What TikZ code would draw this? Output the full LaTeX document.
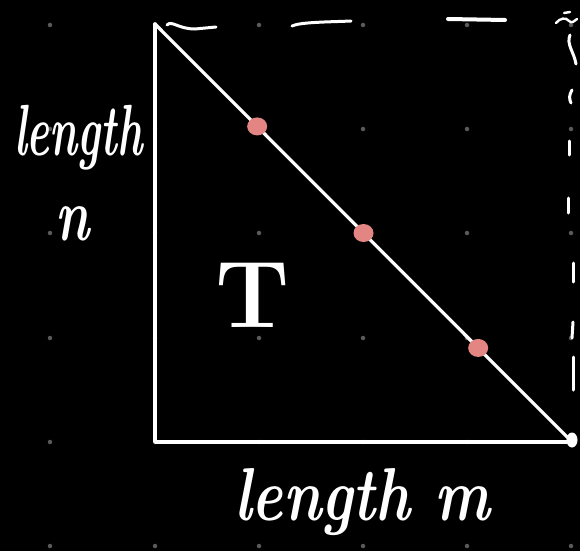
\documentclass[tikz,border=0pt]{standalone}
\usepackage{graphicx}
\definecolor{pinkdot}{HTML}{E38683}
\definecolor{griddot}{HTML}{5A5A5A}
\tikzset{
  wline/.style={draw=white, line width=3.6pt, line cap=round, line join=round},
  stroke/.style={draw=white, line width=3pt, line cap=round},
  blob/.style={ellipse, fill=pinkdot, minimum width=20pt, minimum height=18pt, inner sep=0pt},
  hand/.style={text=white, inner sep=0pt, font=\fontsize{50}{50}\selectfont\bfseries\itshape},
  gdot/.style={circle, fill=griddot, minimum size=4.5pt, inner sep=0pt},
}
\usetikzlibrary{shapes.geometric}
\begin{document}
\begin{tikzpicture}[x=1pt,y=-1pt]
\fill[black] (0,0) rectangle (580,551);
\useasboundingbox (0,0) rectangle (580,551);
% grid dots
\foreach \i/\x in {0/50,1/155,2/259,3/363,4/467,5/571}
  \foreach \j/\y in {0/25,1/129,2/233,3/338,4/442,5/546}
    \node[gdot] (g\i\j) at (\x,\y) {};
% triangle
\coordinate (A) at (155,24);
\coordinate (B) at (155,442);
\coordinate (C) at (572,442);
\draw[wline] (A) -- (B) -- (C);
\draw[draw=white, line width=3.2pt, line cap=round] (A) -- (C)
  node[blob, pos=0.245] (p1) {}
  node[blob, pos=0.50] (p2) {}
  node[blob, pos=0.775] (p3) {};
\node[ellipse, fill=white, minimum width=11pt, minimum height=15pt, inner sep=0pt] (cdot) at (572,440) {};
% top dashed strokes
\draw[stroke] (167,25) .. controls (172,20) and (178,29) .. (195,29) -- (216,27);
\draw[stroke] (292,26) .. controls (300,22) and (330,22) .. (351,21);
\draw[draw=white, line width=4pt, line cap=round] (448,19) -- (505,20);
\draw[draw=white, line width=2.4pt, line cap=round] (556,23) .. controls (560,18) and (566,17) .. (569,21) .. controls (572,24) and (574,21) .. (577,19);
\draw[draw=white, line width=2.4pt, line cap=round] (564,13) -- (570,12);
% right dashed strokes
\draw[stroke] (570,35) .. controls (566,44) and (574,52) .. (576,64);
\draw[stroke] (572,90) .. controls (569,95) and (569,99) .. (571,103);
\draw[stroke] (569,141) -- (569,155);
\draw[stroke] (568,198) -- (568,213);
\draw[stroke] (573,263) -- (573,282);
\draw[stroke] (573,322) -- (572,338);
\draw[stroke] (573,357) -- (573,390);
% labels
\node[hand, anchor=base west] (ln) at (14,155) {\scalebox{0.86}[1.45]{length}};
\node[hand, anchor=base west] (n) at (55,240) {\scalebox{1.05}[1.5]{n}};
\node[hand, anchor=base, font=\fontsize{95}{95}\selectfont\bfseries] (T) at (253,327) {T};
\node[hand, anchor=base west] (lm) at (234,520) {\scalebox{1.18}[1.5]{length m}};
\end{tikzpicture}
\end{document}
